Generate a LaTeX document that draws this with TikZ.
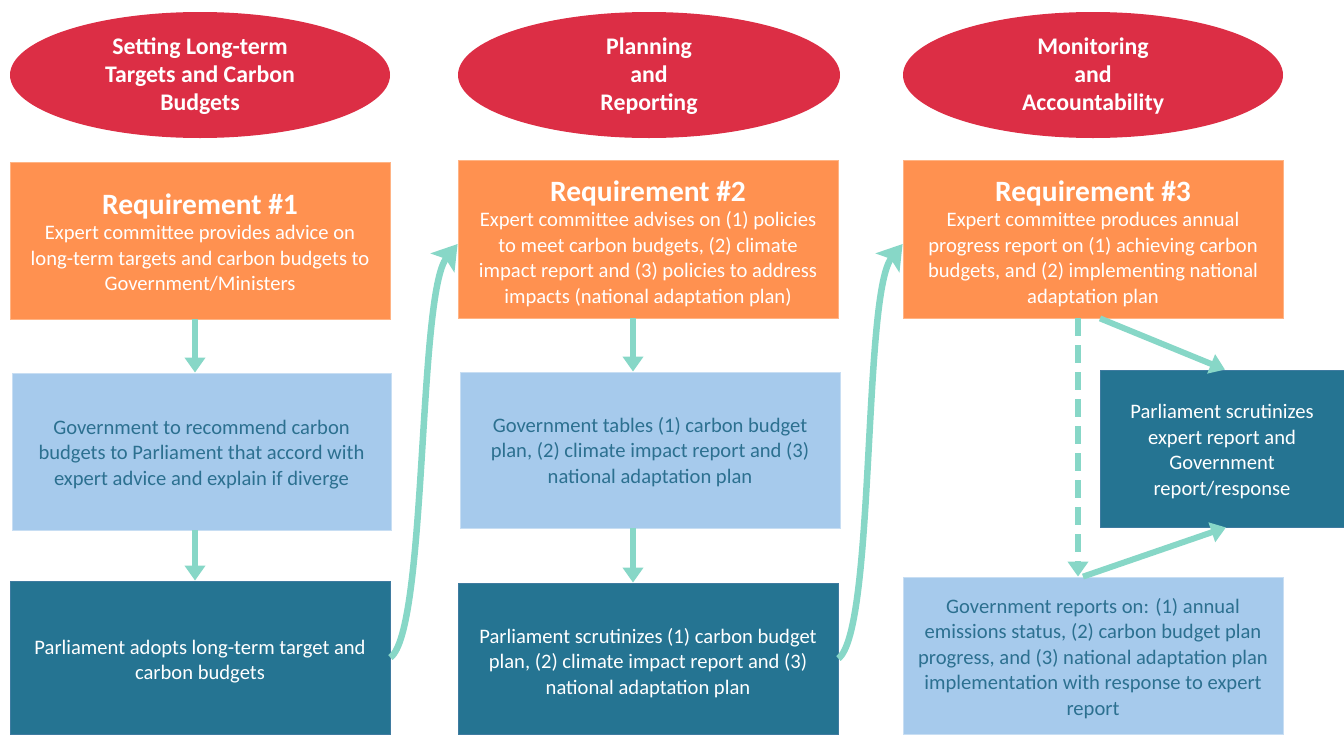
\documentclass[tikz,border=0pt]{standalone}
\usepackage{fontspec}
\setmainfont{Carlito}
\usetikzlibrary{shapes.geometric,arrows.meta}
\definecolor{ellred}{HTML}{DC2E45}
\definecolor{reqor}{HTML}{FF9150}
\definecolor{reqorb}{HTML}{FFB485}
\definecolor{lblue}{HTML}{A6CAEC}
\definecolor{lblueb}{HTML}{C8DEF3}
\definecolor{dteal}{HTML}{257492}
\definecolor{dtealb}{HTML}{3F7BA0}
\definecolor{arrc}{HTML}{87D7C7}
\definecolor{ltext}{HTML}{2C7090}
\tikzset{
  phase/.style={ellipse, fill=ellred, inner sep=0pt, minimum width=380pt, minimum height=126pt},
  phasetxt/.style={text=white, inner sep=0pt, align=center, font=\fontsize{23.8}{28}\selectfont\bfseries},
  reqbox/.style={rectangle, fill=reqor, draw=reqorb, line width=0.8pt, inner sep=0pt,
    minimum width=380pt, minimum height=158pt},
  govbox/.style={rectangle, fill=lblue, draw=lblueb, line width=0.8pt, inner sep=0pt,
    minimum width=380pt, minimum height=157pt},
  parbox/.style={rectangle, fill=dteal, draw=dtealb, line width=0.8pt, inner sep=0pt,
    minimum width=380pt, minimum height=153pt},
  bodytxt/.style={inner sep=0pt, align=center, font=\fontsize{20.6}{25.5}\selectfont},
  wtxt/.style={bodytxt, text=white},
  btxt/.style={bodytxt, text=ltext},
  arr/.style={draw=arrc, line width=6pt, -{Triangle[length=15pt,width=20pt]}},
  carr/.style={draw=arrc, line width=6.5pt, -{Stealth[length=24pt,width=30pt,inset=5pt]}},
  dasharr/.style={arr, dash pattern=on 18pt off 9pt}
}
\newcommand{\reqtitle}[1]{{\fontsize{29.5}{32}\selectfont\bfseries #1}\\[0pt]}
\begin{document}
\begin{tikzpicture}[x=1pt,y=-1pt]
\useasboundingbox (0,0) rectangle (1344,734);
% phases
\node[phase] (e1) at (200,75) {};
\node[phase, minimum width=382pt] (e2) at (649,75) {};
\node[phase] (e3) at (1093,75) {};
\node[phasetxt] at ([yshift=-1pt]e1.center) {Setting Long-term\\Targets and Carbon\\Budgets};
\node[phasetxt] at ([yshift=-1pt]e2.center) {Planning\\and\\Reporting};
\node[phasetxt] at ([yshift=-1pt]e3.center) {Monitoring\\and\\Accountability};
% requirements
\node[reqbox, minimum height=157pt] (r1) at (200,240.5) {};
\node[reqbox] (r2) at (648,239) {};
\node[reqbox] (r3) at (1093,239) {};
\node[wtxt] at ([yshift=-2pt]r1.center) {\reqtitle{Requirement \#1}Expert committee provides advice on\\long-term targets and carbon budgets to\\Government/Ministers};
\node[wtxt] at ([yshift=-4.5pt]r2.center) {\reqtitle{Requirement \#2}Expert committee advises on (1) policies\\to meet carbon budgets, (2) climate\\impact report and (3) policies to address\\impacts (national adaptation plan)};
\node[wtxt] at ([yshift=-4.5pt]r3.center) {\reqtitle{Requirement \#3}Expert committee produces annual\\progress report on (1) achieving carbon\\budgets, and (2) implementing national\\adaptation plan};
% government boxes
\node[govbox, minimum width=379pt] (b1) at (201.5,451.5) {};
\node[govbox, minimum height=156pt] (b2) at (650,450) {};
\node[govbox] (g3) at (1093,655.5) {};
\node[btxt] at ([yshift=-3pt]b1.center) {Government to recommend carbon\\budgets to Parliament that accord with\\expert advice and explain if diverge};
\node[btxt] at ([yshift=-2pt]b2.center) {Government tables (1) carbon budget\\plan, (2) climate impact report and (3)\\national adaptation plan};
\node[btxt] at ([yshift=-3pt]g3.center) {Government reports on: (1) annual\\emissions status, (2) carbon budget plan\\progress, and (3) national adaptation plan\\implementation with response to expert\\report};
% parliament boxes
\node[parbox] (d1) at (200,657.5) {};
\node[parbox, minimum height=151pt] (d2) at (648,658.5) {};
\node[parbox, minimum width=244pt, minimum height=157pt] (d3) at (1222,448.5) {};
\node[wtxt] at ([yshift=-4pt]d1.center) {Parliament adopts long-term target and\\carbon budgets};
\node[wtxt] at ([yshift=-4.5pt]d2.center) {Parliament scrutinizes (1) carbon budget\\plan, (2) climate impact report and (3)\\national adaptation plan};
\node[wtxt] at ([yshift=-3pt]d3.center) {Parliament scrutinizes\\expert report and\\Government\\report/response};
% vertical arrows
\draw[arr] ([xshift=-5pt]r1.south) -- ([xshift=-5pt]r1.south |- b1.north);
\draw[arr] ([xshift=-6.5pt]b1.south) -- ([xshift=-5pt]r1.south |- d1.north);
\draw[arr] ([xshift=-15pt]r2.south) -- ([xshift=-15pt]r2.south |- b2.north);
\draw[arr] ([xshift=-17pt]b2.south) -- ([xshift=-15pt]r2.south |- d2.north);
% curved arrows
\draw[carr] (d1.east) .. controls +(37,-27.5) and +(-40,50) .. ([yshift=-5pt]r2.west);
\draw[carr] (d2.east) .. controls +(37,-28.5) and +(-40,50) .. ([yshift=-5pt]r3.west);
% monitoring arrows
\draw[dasharr] ([xshift=-15pt]r3.south) -- ([xshift=-15pt]g3.north);
\draw[arr] ([xshift=7pt]r3.south) -- ([xshift=3pt]d3.north);
\draw[arr] ([xshift=-10pt]g3.north) -- ([xshift=4pt]d3.south);
\end{tikzpicture}
\end{document}
